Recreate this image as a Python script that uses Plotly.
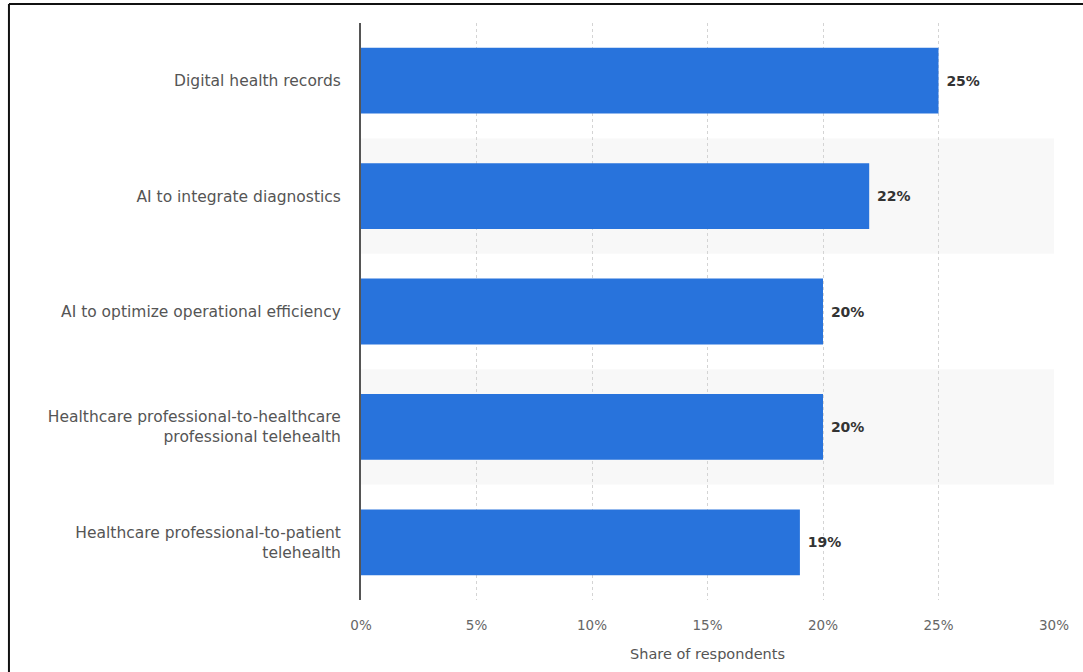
import plotly.graph_objects as go

# Survey data: share of respondents per digital health technology
categories = [
    "Digital health records",
    "AI to integrate diagnostics",
    "AI to optimize operational efficiency",
    "Healthcare professional-to-healthcare<br>professional telehealth",
    "Healthcare professional-to-patient<br>telehealth",
]
shares = [25, 22, 20, 20, 19]
x_ticks = [0, 5, 10, 15, 20, 25, 30]
x_tick_labels = ["0%", "5%", "10%", "15%", "20%", "25%", "30%"]

FONT = "DejaVu Sans"
BAR_COLOR = "#2873dc"

fig = go.Figure(
    go.Bar(
        x=shares,
        y=categories,
        orientation="h",
        marker=dict(color=BAR_COLOR, line=dict(width=0)),
        text=[f"{v}%" for v in shares],
        texttemplate=" %{text}",
        textposition="outside",
        textfont=dict(family=FONT, size=14, color="#333333", weight="bold"),
        cliponaxis=False,
        width=0.57,
    )
)

# Alternate row shading behind the 2nd and 4th categories
shapes = []
for i in (1, 3):
    shapes.append(dict(
        type="rect", xref="x", yref="y",
        x0=0, x1=30, y0=i - 0.5, y1=i + 0.5,
        fillcolor="#f8f8f8", line=dict(width=0), layer="below",
    ))

# Outer frame lines (top and left edges)
shapes.append(dict(type="line", xref="paper", yref="paper",
                   x0=-0.508, x1=1.05, y0=1.033, y1=1.033,
                   line=dict(color="#111111", width=2)))
shapes.append(dict(type="line", xref="paper", yref="paper",
                   x0=-0.508, x1=-0.508, y0=-0.2, y1=1.033,
                   line=dict(color="#111111", width=2)))

fig.update_layout(
    width=1083,
    height=672,
    margin=dict(l=361, r=29, t=23, b=72),
    paper_bgcolor="white",
    plot_bgcolor="white",
    showlegend=False,
    shapes=shapes,
    font=dict(family=FONT, color="#666666"),
    xaxis=dict(
        range=[0, 30],
        tickvals=x_ticks,
        ticktext=x_tick_labels,
        showgrid=True,
        gridcolor="#d4d4d4",
        griddash="dot",
        gridwidth=1,
        zeroline=False,
        showline=False,
        ticks="",
        ticklabelstandoff=15,
        tickfont=dict(family=FONT, size=13.5, color="#666666"),
        title=dict(text="Share of respondents",
                   font=dict(family=FONT, size=14.5, color="#555555"),
                   standoff=17),
        fixedrange=True,
    ),
    yaxis=dict(
        autorange="reversed",
        showgrid=False,
        zeroline=False,
        showline=True,
        linecolor="#555555",
        linewidth=2,
        ticks="",
        ticklabelstandoff=15,
        tickfont=dict(family=FONT, size=15.5, color="#555555"),
        fixedrange=True,
    ),
)

fig.write_html("out.html")
